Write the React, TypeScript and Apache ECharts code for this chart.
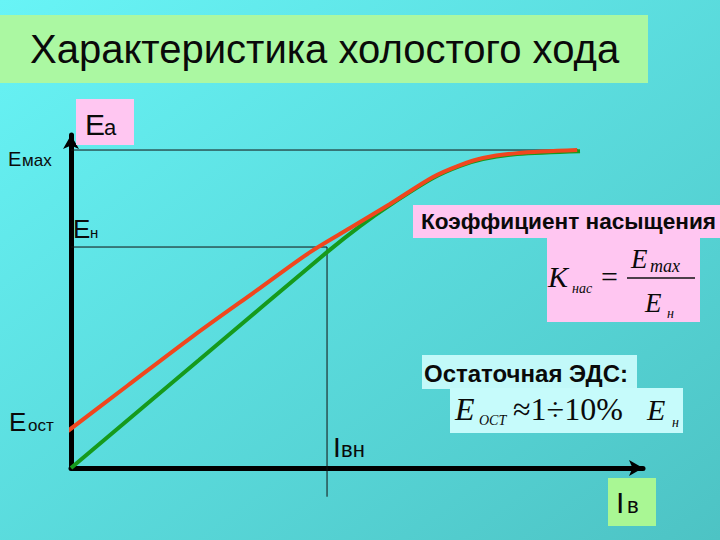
import React, { useEffect, useRef } from "react";
import * as echarts from "echarts";

// ---- data (x in units of I_вн, y in units of E_н) ----
const TITLE = "Характеристика холостого хода";
const RED_X = [-0.023, 0.219, 0.477, 0.738, 0.934, 1.09, 1.246, 1.414, 1.52, 1.609, 1.742, 1.977];
const RED_Y = [0.158, 0.371, 0.597, 0.814, 0.977, 1.086, 1.195, 1.317, 1.371, 1.403, 1.425, 1.439];
const GREEN_X = [0, 0.5, 1.0, 1.129, 1.246, 1.414, 1.52, 1.609, 1.742, 1.988];
const GREEN_Y = [0, 0.4885, 0.977, 1.095, 1.19, 1.312, 1.367, 1.398, 1.421, 1.434];
const E_MAX = 1.439;
const E_NOM = 1.0;
const I_NOM = 1.0;
const I_NOM_LINE_BOTTOM = -0.13;
const E_MAX_LINE_END = 1.98;
const X_MAX = 2.234;
const Y_MAX = 1.507;

const LABEL_EA = ["E", "а"];
const LABEL_EMAX = ["E", "мах"];
const LABEL_EN = ["E", "н"];
const LABEL_EOST = ["E", "ост"];
const LABEL_IVN = ["I", "вн"];
const LABEL_IV = ["I", "в"];
const TEXT_KOEF = "Коэффициент насыщения";
const TEXT_OST = "Остаточная ЭДС:";
const FORMULA_K = ["K", "нас", "=", "E", "max", "E", "н"];
const FORMULA_OST = ["E", "OCT", "≈1÷10%", "E", "н"];

const SANS = "'Liberation Sans', Arial, sans-serif";
const SERIF = "'Liberation Serif', 'Times New Roman', serif";

function txt(text: string, x: number, baseline: number, size: number, opts: any = {}) {
  const serif = !!opts.serif;
  const off = serif ? 0.338 : 0.3465;
  return {
    type: "text",
    z: 10,
    style: {
      text,
      x,
      y: baseline - off * size,
      align: opts.align || "left",
      verticalAlign: "middle",
      fontSize: size,
      fontFamily: serif ? SERIF : SANS,
      fontWeight: opts.bold ? "bold" : "normal",
      fontStyle: opts.italic ? "italic" : "normal",
      fill: opts.fill || "#0a0a0a",
    },
  };
}

function rect(x: number, y: number, w: number, h: number, fill: string) {
  return { type: "rect", z: 5, shape: { x, y, width: w, height: h }, style: { fill } };
}

const zip = (xs: number[], ys: number[]) => xs.map((x, i) => [x, ys[i]]);

export default function App() {
  const ref = useRef<HTMLDivElement>(null);
  useEffect(() => {
    document.body.style.margin = "0";
    const chart = echarts.init(ref.current!, null, { renderer: "svg" });
    const thin = { color: "#111", width: 1 };
    chart.setOption({
      animation: false,
      backgroundColor: {
        type: "linear",
        x: 0,
        y: 0,
        x2: 1,
        y2: 1,
        colorStops: [
          { offset: 0, color: "#68f4f6" },
          { offset: 1, color: "#4dc3c4" },
        ],
      },
      grid: { left: 71, top: 135, right: 77, bottom: 72 },
      xAxis: {
        type: "value",
        min: 0,
        max: X_MAX,
        axisLine: {
          show: true,
          symbol: ["none", "arrow"],
          symbolSize: [12, 14],
          lineStyle: { color: "#000", width: 5 },
        },
        axisTick: { show: false },
        axisLabel: { show: false },
        splitLine: { show: false },
      },
      yAxis: {
        type: "value",
        min: 0,
        max: Y_MAX,
        axisLine: {
          show: true,
          symbol: ["none", "arrow"],
          symbolSize: [12, 14],
          lineStyle: { color: "#000", width: 5 },
        },
        axisTick: { show: false },
        axisLabel: { show: false },
        splitLine: { show: false },
      },
      series: [
        {
          type: "line",
          data: [[0, E_MAX], [E_MAX_LINE_END, E_MAX]],
          symbol: "none",
          lineStyle: thin,
          clip: false,
          z: 1,
        },
        {
          type: "line",
          data: [[0, E_NOM], [I_NOM, E_NOM], [I_NOM, I_NOM_LINE_BOTTOM]],
          symbol: "none",
          lineStyle: thin,
          clip: false,
          z: 1,
        },
        {
          type: "line",
          data: zip(GREEN_X, GREEN_Y),
          symbol: "none",
          smooth: 0.3,
          lineStyle: { color: "#169a1c", width: 4 },
          clip: false,
          z: 2,
        },
        {
          type: "line",
          data: zip(RED_X, RED_Y),
          symbol: "none",
          smooth: 0.3,
          lineStyle: { color: "#f0461e", width: 4 },
          clip: false,
          z: 3,
        },
      ],
      graphic: [
        // title
        rect(0, 15, 648, 68, "#abf8a2"),
        txt(TITLE, 30, 63, 40),
        // Ea
        rect(76, 99, 58, 46, "#ffc6f1"),
        txt(LABEL_EA[0], 85, 135, 30),
        txt(LABEL_EA[1], 104, 135, 22),
        // Emax
        txt(LABEL_EMAX[0], 8, 166, 20),
        txt(LABEL_EMAX[1], 22, 166, 17),
        // En
        txt(LABEL_EN[0], 73, 238, 26),
        txt(LABEL_EN[1], 90, 238, 15),
        // Eost
        txt(LABEL_EOST[0], 9, 431, 26),
        txt(LABEL_EOST[1], 28, 431, 17),
        // Ivn
        txt(LABEL_IVN[0], 333, 457, 28),
        txt(LABEL_IVN[1], 341, 457, 22),
        // Iv
        rect(608, 478, 48, 48, "#a9f794"),
        txt(LABEL_IV[0], 616, 513, 30),
        txt(LABEL_IV[1], 627, 513, 22),
        // Koef box
        rect(413, 205, 307, 33, "#ffc6f1"),
        txt(TEXT_KOEF, 421, 229, 22.6, { bold: true }),
        rect(547, 238, 153, 84, "#ffc6f1"),
        txt(FORMULA_K[0], 548, 287, 30, { serif: true, italic: true }),
        txt(FORMULA_K[1], 572, 293, 14, { serif: true, italic: true }),
        txt(FORMULA_K[2], 601, 287, 30, { serif: true }),
        { type: "line", z: 10, shape: { x1: 627, y1: 278, x2: 695, y2: 278 }, style: { stroke: "#111", lineWidth: 1.5 } },
        txt(FORMULA_K[3], 631, 268, 27, { serif: true, italic: true }),
        txt(FORMULA_K[4], 650, 272, 18, { serif: true, italic: true }),
        txt(FORMULA_K[5], 645, 312, 27, { serif: true, italic: true }),
        txt(FORMULA_K[6], 667, 318, 14, { serif: true, italic: true }),
        // Ost
        rect(422, 355, 215, 34, "#c2f9f9"),
        txt(TEXT_OST, 424, 382, 24, { bold: true }),
        rect(450, 388, 233, 45, "#c6fbfb"),
        txt(FORMULA_OST[0], 455, 420, 32, { serif: true, italic: true }),
        txt(FORMULA_OST[1], 479, 425, 14, { serif: true, italic: true }),
        txt(FORMULA_OST[2], 513, 420, 32, { serif: true }),
        txt(FORMULA_OST[3], 647, 420, 30, { serif: true, italic: true }),
        txt(FORMULA_OST[4], 672, 427, 14, { serif: true, italic: true }),
      ],
    });
    return () => chart.dispose();
  }, []);
  return <div ref={ref} style={{ width: 720, height: 540 }} />;
}
